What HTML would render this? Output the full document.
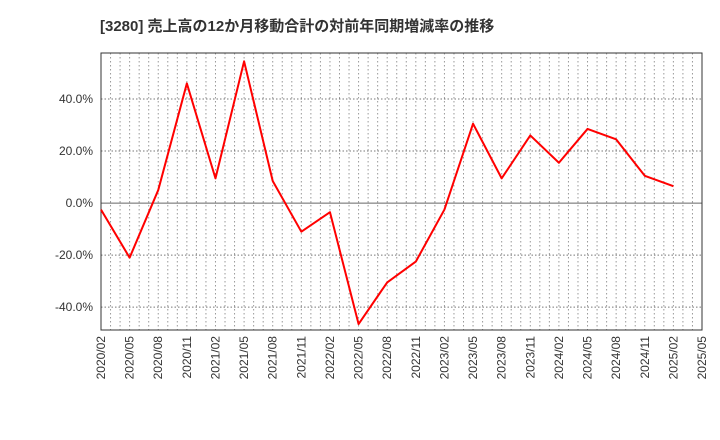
<!DOCTYPE html>
<html><head><meta charset="utf-8"><style>body{margin:0;background:#fff}svg{display:block}</style></head>
<body>
<svg id="c" width="720" height="440" xmlns="http://www.w3.org/2000/svg" font-family="Liberation Sans, Noto Sans CJK JP, sans-serif">
<text x="100" y="31" font-size="15" font-weight="bold" fill="#333">[3280]  売上高の12か月移動合計の対前年同期増減率の推移</text>
<g id="grid"></g><g id="axes"></g><g id="series"></g>
</svg>
<script>
const categories=["2020/02","2020/05","2020/08","2020/11","2021/02","2021/05","2021/08","2021/11","2022/02","2022/05","2022/08","2022/11","2023/02","2023/05","2023/08","2023/11","2024/02","2024/05","2024/08","2024/11","2025/02"];
const values=[-2.5,-21,5,46,9.5,54.5,8.5,-11,-3.5,-46.5,-30.5,-22.5,-2.5,30.5,9.5,26,15.5,28.5,24.5,10.5,6.5];
const xTickLabels=["2020/02","2020/05","2020/08","2020/11","2021/02","2021/05","2021/08","2021/11","2022/02","2022/05","2022/08","2022/11","2023/02","2023/05","2023/08","2023/11","2024/02","2024/05","2024/08","2024/11","2025/02","2025/05"];
const yTicks=[-40,-20,0,20,40];
const L=101,R=702,T=53,B=330,yMin=-48.8,yMax=57.7,nQ=21;
const ns="http://www.w3.org/2000/svg";
const x=i=>L+(R-L)*i/nQ;
const y=v=>T+(yMax-v)/(yMax-yMin)*(B-T);
function mk(t,a,p){const e=document.createElementNS(ns,t);for(const k in a)e.setAttribute(k,a[k]);p.appendChild(e);return e;}
const g=document.getElementById('grid'),ax=document.getElementById('axes'),s=document.getElementById('series');
for(let m=1;m<nQ*3;m++){const l=mk('line',{x1:L+(R-L)*m/(nQ*3),x2:L+(R-L)*m/(nQ*3),y1:T,y2:B,stroke:'#999','stroke-dasharray':'1.5,2.5','stroke-width':1},g);

}
yTicks.forEach(v=>{const l=mk('line',{x1:L,x2:R,y1:y(v),y2:y(v),stroke:v===0?'#666':'#777','stroke-dasharray':v===0?'none':'1.5,2','stroke-width':1},g);


const t=mk('text',{x:L-8,y:y(v)+4,'text-anchor':'end','font-size':12,fill:'#333'},ax);t.textContent=v.toFixed(1)+'%';

});
xTickLabels.forEach((lb,i)=>{const t=mk('text',{transform:`translate(${x(i)+4},${B+6}) rotate(-90)`,'text-anchor':'end','font-size':12,fill:'#333'},ax);t.textContent=lb;

});
const f=mk('rect',{x:L,y:T,width:R-L,height:B-T,fill:'none',stroke:'#333','stroke-width':1},ax);


const p=mk('polyline',{points:values.map((v,i)=>x(i)+','+y(v)).join(' '),fill:'none',stroke:'#f00','stroke-width':2,'stroke-linejoin':'round'},s);


</script>
</body></html>
